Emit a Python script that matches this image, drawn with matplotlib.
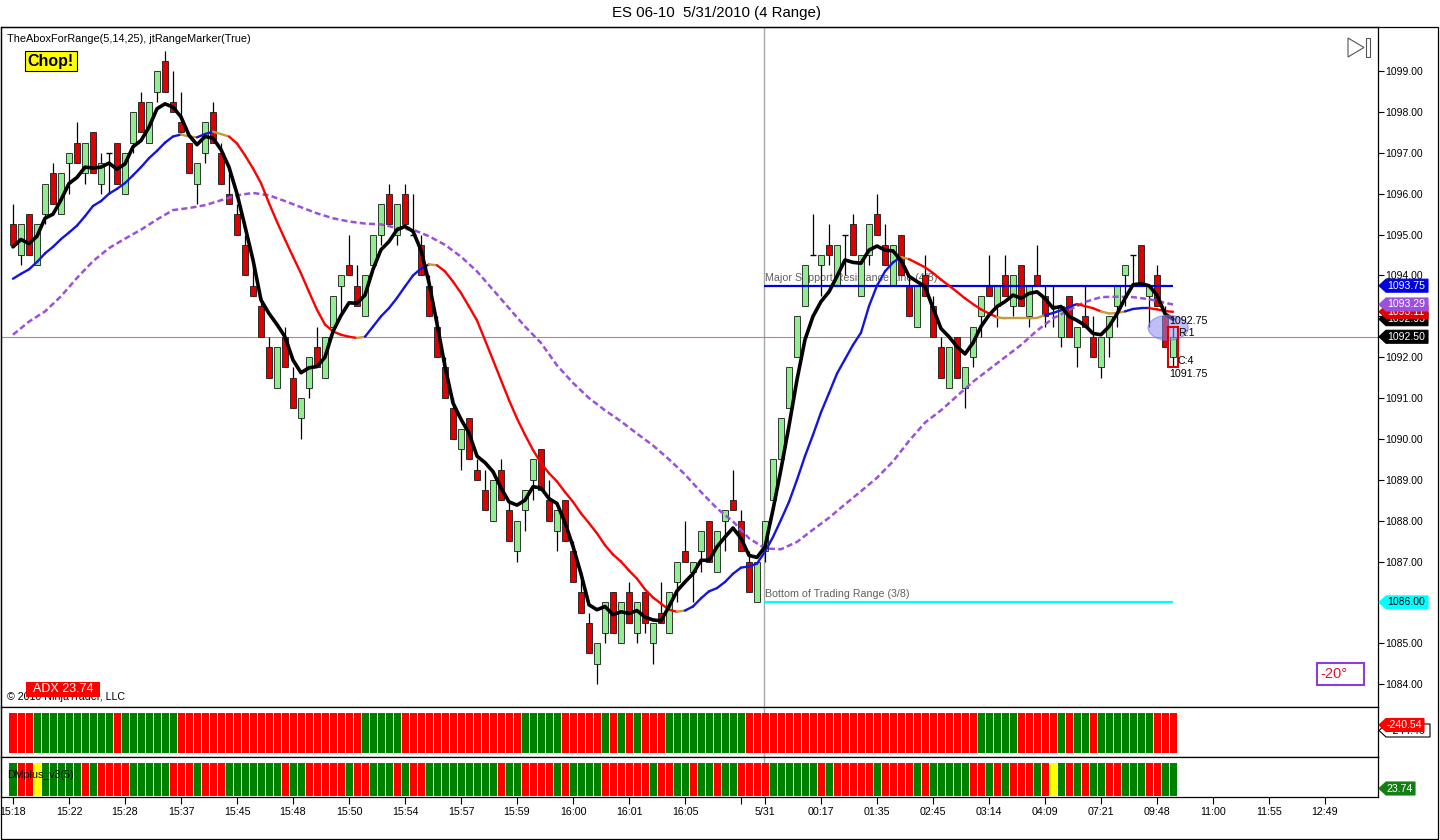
import matplotlib
matplotlib.use("Agg")
import matplotlib.pyplot as plt
import numpy as np
from matplotlib.collections import LineCollection
from matplotlib.patches import Rectangle, Polygon, Ellipse
from matplotlib.transforms import IdentityTransform

plt.rcParams['font.family'] = ['Liberation Sans', 'DejaVu Sans']

# ---------------- data ----------------
opens = [
    1095.25, 1094.5, 1095.5, 1094.25, 1095.5, 1096.5, 1095.5, 1096.75, 1097.25, 1096.5,
    1097.5, 1096.25, 1097.0, 1097.25, 1096.0, 1097.25, 1098.25, 1097.25, 1098.5, 1099.25,
    1098.25, 1097.75, 1097.25, 1096.25, 1097.0, 1098.0, 1097.0, 1096.0, 1095.5, 1094.75,
    1093.75, 1093.25, 1092.25, 1091.25, 1092.5, 1091.5, 1090.5, 1091.25, 1092.25, 1091.5,
    1092.75, 1093.75, 1094.25, 1093.75, 1093.0, 1094.25, 1095.0, 1096.0, 1095.0, 1096.0,
    1095.0, 1094.75, 1093.75, 1092.75, 1091.75, 1090.75, 1089.75, 1090.5, 1089.25, 1088.75,
    1088.0, 1089.25, 1088.25, 1087.25, 1088.25, 1089.0, 1089.75, 1088.5, 1087.75, 1088.5,
    1087.25, 1086.25, 1085.5, 1084.5, 1085.25, 1086.25, 1085.0, 1086.25, 1085.25, 1086.25,
    1085.0, 1085.75, 1085.25, 1086.5, 1087.25, 1086.75, 1087.25, 1088.0, 1086.75, 1088.0,
    1088.5, 1088.0, 1087.0, 1086.0, 1087.25, 1088.5, 1089.5, 1090.75, 1092.0, 1093.25,
    1094.5, 1094.25, 1094.75, 1093.75, 1095.0, 1095.25, 1093.5, 1094.5, 1095.5, 1094.75,
    1093.75, 1095.0, 1093.75, 1092.75, 1094.0, 1093.25, 1092.25, 1091.25, 1092.5, 1091.25,
    1092.0, 1093.0, 1093.75, 1093.25, 1094.0, 1093.25, 1094.25, 1093.0, 1094.0, 1093.5,
    1093.25, 1092.5, 1093.5, 1092.25, 1093.0, 1092.5, 1091.75, 1092.5, 1093.25, 1094.0,
    1094.5, 1094.75, 1093.5, 1094.0, 1093.0, 1092.0]
highs = [
    1095.75, 1095.25, 1095.5, 1095.25, 1096.25, 1096.75, 1096.5, 1097.0, 1097.75, 1097.25,
    1097.5, 1097.0, 1097.0, 1097.25, 1097.0, 1098.0, 1098.5, 1098.25, 1099.0, 1099.5,
    1099.0, 1098.5, 1097.25, 1096.75, 1097.75, 1098.25, 1097.25, 1096.5, 1095.75, 1095.0,
    1094.25, 1093.5, 1092.5, 1092.25, 1092.75, 1091.75, 1091.0, 1092.0, 1092.75, 1092.5,
    1093.5, 1094.0, 1095.0, 1094.25, 1094.0, 1095.0, 1095.75, 1096.25, 1095.75, 1096.25,
    1096.0, 1095.0, 1094.0, 1093.0, 1092.0, 1091.0, 1090.25, 1090.5, 1089.5, 1089.25,
    1089.0, 1089.5, 1088.5, 1088.0, 1088.75, 1089.5, 1089.75, 1089.0, 1088.25, 1088.5,
    1087.5, 1086.75, 1085.75, 1085.0, 1086.0, 1086.25, 1086.0, 1086.5, 1086.0, 1086.25,
    1085.5, 1086.5, 1086.25, 1087.0, 1088.0, 1087.0, 1087.75, 1088.0, 1087.75, 1088.25,
    1089.25, 1088.25, 1087.25, 1087.0, 1088.0, 1089.5, 1090.5, 1091.75, 1093.0, 1094.25,
    1095.5, 1094.5, 1095.25, 1094.75, 1095.0, 1095.5, 1094.5, 1095.25, 1096.0, 1095.25,
    1094.75, 1095.0, 1094.0, 1093.75, 1094.5, 1093.5, 1092.5, 1092.25, 1092.5, 1091.75,
    1092.75, 1093.5, 1094.5, 1093.75, 1094.5, 1094.0, 1094.25, 1093.75, 1094.75, 1093.75,
    1093.75, 1093.25, 1093.5, 1092.75, 1093.75, 1093.0, 1092.5, 1093.0, 1093.75, 1094.25,
    1094.5, 1094.75, 1093.75, 1094.25, 1093.25, 1092.75]
lows = [
    1094.75, 1094.25, 1094.5, 1094.25, 1095.25, 1095.75, 1095.5, 1096.0, 1096.75, 1096.25,
    1096.5, 1096.0, 1096.0, 1096.25, 1096.0, 1097.0, 1097.5, 1097.25, 1098.25, 1098.5,
    1098.0, 1097.5, 1096.5, 1095.75, 1096.75, 1097.25, 1096.25, 1095.75, 1095.0, 1094.0,
    1093.5, 1092.5, 1091.5, 1091.25, 1091.75, 1090.75, 1090.0, 1091.0, 1091.75, 1091.5,
    1092.75, 1093.0, 1094.0, 1093.25, 1093.0, 1094.25, 1094.75, 1095.25, 1094.75, 1095.25,
    1095.0, 1094.0, 1093.0, 1092.0, 1091.0, 1090.0, 1089.25, 1089.5, 1089.0, 1088.25,
    1088.0, 1088.5, 1087.5, 1087.0, 1087.75, 1088.5, 1088.75, 1088.0, 1087.25, 1087.5,
    1086.5, 1085.75, 1084.75, 1084.0, 1085.0, 1085.25, 1085.0, 1085.5, 1085.0, 1085.25,
    1084.5, 1085.5, 1085.25, 1086.0, 1087.0, 1086.0, 1086.75, 1087.0, 1086.75, 1087.25,
    1088.25, 1087.25, 1086.25, 1086.0, 1087.0, 1088.5, 1089.5, 1090.75, 1092.0, 1093.25,
    1094.5, 1093.5, 1094.25, 1093.75, 1094.0, 1094.5, 1093.5, 1094.25, 1095.0, 1094.25,
    1093.75, 1094.0, 1093.0, 1092.75, 1093.5, 1092.5, 1091.5, 1091.25, 1091.5, 1090.75,
    1091.75, 1092.5, 1093.5, 1092.75, 1093.5, 1093.0, 1093.25, 1092.75, 1093.75, 1092.75,
    1092.75, 1092.25, 1092.5, 1091.75, 1092.75, 1092.0, 1091.5, 1092.0, 1092.75, 1093.25,
    1093.75, 1093.75, 1092.75, 1093.25, 1092.25, 1091.75]
closes = [
    1094.75, 1095.25, 1094.5, 1095.25, 1096.25, 1095.75, 1096.5, 1097.0, 1096.75, 1097.25,
    1096.5, 1096.75, 1097.0, 1096.25, 1097.0, 1098.0, 1097.5, 1098.25, 1099.0, 1098.5,
    1098.0, 1097.5, 1096.5, 1096.75, 1097.75, 1097.25, 1096.25, 1095.75, 1095.0, 1094.0,
    1093.5, 1092.5, 1091.5, 1092.25, 1091.75, 1090.75, 1091.0, 1092.0, 1091.75, 1092.5,
    1093.5, 1094.0, 1094.0, 1093.25, 1094.0, 1095.0, 1095.75, 1095.25, 1095.75, 1095.25,
    1095.0, 1094.0, 1093.0, 1092.0, 1091.0, 1090.0, 1090.25, 1089.5, 1089.0, 1088.25,
    1089.0, 1088.5, 1087.5, 1088.0, 1088.75, 1089.5, 1088.75, 1088.0, 1088.25, 1087.5,
    1086.5, 1085.75, 1084.75, 1085.0, 1086.0, 1085.25, 1086.0, 1085.5, 1086.0, 1085.5,
    1085.5, 1085.5, 1086.25, 1087.0, 1087.0, 1087.0, 1087.75, 1087.0, 1087.75, 1088.25,
    1088.25, 1087.25, 1086.25, 1087.0, 1088.0, 1089.5, 1090.5, 1091.75, 1093.0, 1094.25,
    1094.5, 1094.5, 1094.5, 1094.75, 1095.0, 1094.5, 1094.5, 1095.25, 1095.0, 1094.25,
    1094.75, 1094.0, 1093.0, 1093.75, 1093.5, 1092.5, 1091.5, 1092.25, 1091.5, 1091.75,
    1092.75, 1093.5, 1093.5, 1093.75, 1093.5, 1094.0, 1093.25, 1093.75, 1093.75, 1093.0,
    1093.25, 1093.25, 1092.5, 1092.75, 1092.75, 1092.0, 1092.5, 1093.0, 1093.75, 1094.25,
    1094.5, 1093.75, 1093.75, 1093.25, 1092.25, 1092.5]

fast_ma = [
    1094.7, 1094.88, 1094.78, 1094.96, 1095.4, 1095.5, 1095.85, 1096.25, 1096.4, 1096.65,
    1096.63, 1096.65, 1096.75, 1096.6, 1096.73, 1097.15, 1097.3, 1097.63, 1098.08, 1098.2,
    1098.12, 1097.88, 1097.43, 1097.2, 1097.4, 1097.36, 1097.08, 1096.65, 1096.0, 1095.2,
    1094.38, 1093.4, 1093.07, 1092.8, 1092.5, 1091.93, 1091.62, 1091.74, 1091.77, 1092.0,
    1092.63, 1093.02, 1093.33, 1093.32, 1093.52, 1094.15, 1094.63, 1094.83, 1095.12, 1095.2,
    1095.08, 1094.62, 1093.82, 1092.82, 1091.77, 1090.88, 1090.48, 1090.14, 1089.58, 1089.42,
    1089.2, 1088.8, 1088.46, 1088.38, 1088.5, 1088.83, 1088.8, 1088.54, 1088.42, 1087.95,
    1087.37, 1086.7, 1085.94, 1085.82, 1085.9, 1085.7, 1085.77, 1085.73, 1085.8, 1085.64,
    1085.57, 1085.55, 1085.9, 1086.28, 1086.5, 1086.7, 1087.03, 1087.03, 1087.36, 1087.6,
    1087.82, 1087.57, 1087.15, 1087.1, 1087.36, 1088.27, 1089.26, 1090.32, 1091.45, 1092.43,
    1093.0, 1093.36, 1093.6, 1093.98, 1094.38, 1094.32, 1094.3, 1094.62, 1094.72, 1094.62,
    1094.6, 1094.37, 1093.98, 1093.85, 1093.73, 1093.2, 1092.7, 1092.5, 1092.26, 1092.08,
    1092.35, 1092.75, 1093.03, 1093.24, 1093.36, 1093.52, 1093.44, 1093.56, 1093.6, 1093.44,
    1093.2, 1093.24, 1093.0, 1092.9, 1092.78, 1092.58, 1092.55, 1092.75, 1093.06, 1093.44,
    1093.77, 1093.8, 1093.75, 1093.52, 1093.06, 1092.93]

mid_ma = [
    1093.92, 1094.04, 1094.15, 1094.33, 1094.54, 1094.7, 1094.89, 1095.05, 1095.22, 1095.45,
    1095.7, 1095.82, 1096.0, 1096.12, 1096.26, 1096.45, 1096.65, 1096.87, 1097.05, 1097.25,
    1097.4, 1097.45, 1097.4, 1097.38, 1097.46, 1097.52, 1097.46, 1097.4, 1097.23, 1096.94,
    1096.62, 1096.26, 1095.77, 1095.31, 1094.88, 1094.46, 1094.05, 1093.6, 1093.16, 1092.8,
    1092.63, 1092.55, 1092.5, 1092.47, 1092.5, 1092.75, 1093.0, 1093.2, 1093.45, 1093.73,
    1094.0, 1094.17, 1094.27, 1094.25, 1094.1, 1093.85, 1093.57, 1093.24, 1092.9, 1092.42,
    1091.93, 1091.44, 1090.95, 1090.5, 1090.1, 1089.73, 1089.41, 1089.16, 1088.96, 1088.7,
    1088.46, 1088.18, 1087.94, 1087.69, 1087.4, 1087.17, 1087.0, 1086.78, 1086.58, 1086.32,
    1086.12, 1085.97, 1085.82, 1085.77, 1085.8, 1085.9, 1086.1, 1086.27, 1086.35, 1086.5,
    1086.7, 1086.85, 1086.88, 1086.95, 1087.24, 1087.6, 1088.02, 1088.46, 1089.0, 1089.58,
    1090.1, 1090.65, 1091.12, 1091.6, 1091.95, 1092.3, 1092.6, 1093.25, 1093.75, 1094.1,
    1094.32, 1094.45, 1094.4, 1094.3, 1094.2, 1094.06, 1093.9, 1093.75, 1093.6, 1093.44,
    1093.3, 1093.17, 1093.07, 1092.98, 1092.95, 1092.95, 1092.95, 1092.95, 1092.96, 1093.03,
    1093.08, 1093.15, 1093.23, 1093.3, 1093.25, 1093.2, 1093.12, 1093.07, 1093.08, 1093.12,
    1093.18, 1093.2, 1093.2, 1093.17, 1093.13, 1093.11]
# u = rising (blue), d = falling (red), f = flat (gold); run lengths in segments
mid_trend = [('u', 21), ('f', 2), ('u', 2), ('f', 2), ('d', 16), ('f', 1), ('u', 8),
             ('f', 1), ('d', 30), ('f', 1), ('u', 27), ('f', 1), ('d', 11), ('f', 6),
             ('u', 4), ('d', 3), ('f', 3), ('u', 3), ('d', 3)]

slow_bars = list(range(0, 145, 2)) + [145]
slow_ma = [
    1092.55, 1092.87, 1093.12, 1093.49, 1093.94, 1094.35, 1094.67, 1094.9, 1095.12, 1095.37,
    1095.6, 1095.65, 1095.72, 1095.84, 1095.96, 1096.02, 1095.96, 1095.82, 1095.67, 1095.52,
    1095.4, 1095.32, 1095.27, 1095.25, 1095.16, 1095.12, 1094.96, 1094.75, 1094.46, 1094.1,
    1093.65, 1093.2, 1092.75, 1092.35, 1091.8, 1091.37, 1091.0, 1090.7, 1090.43, 1090.13,
    1089.84, 1089.5, 1089.13, 1088.7, 1088.3, 1087.98, 1087.57, 1087.32, 1087.3, 1087.48,
    1087.78, 1088.07, 1088.4, 1088.72, 1089.05, 1089.45, 1089.95, 1090.4, 1090.7, 1091.05,
    1091.4, 1091.7, 1092.0, 1092.3, 1092.65, 1092.95, 1093.15, 1093.35, 1093.47, 1093.48,
    1093.47, 1093.42, 1093.33, 1093.29]

osc_runs = [('r', 3), ('g', 10), ('r', 1), ('g', 7), ('r', 23), ('g', 5), ('r', 15), ('g', 5),
            ('r', 5), ('g', 1), ('r', 1), ('g', 1), ('r', 1), ('g', 1), ('r', 3), ('g', 10),
            ('r', 29), ('g', 5), ('r', 5), ('g', 1), ('r', 1), ('g', 2), ('r', 1), ('g', 7),
            ('r', 3)]
adx_runs = [('g', 1), ('r', 2), ('y', 1), ('g', 5), ('r', 1), ('g', 1), ('r', 4), ('g', 5),
            ('r', 3), ('g', 1), ('r', 3), ('g', 7), ('r', 1), ('g', 2), ('r', 5), ('g', 1),
            ('r', 2), ('g', 3), ('r', 1), ('g', 1), ('r', 2), ('g', 9), ('r', 1), ('g', 2),
            ('r', 4), ('g', 1), ('r', 1), ('g', 4), ('r', 6), ('g', 1), ('r', 2), ('g', 2),
            ('r', 1), ('g', 2), ('r', 1), ('g', 2), ('r', 4), ('g', 6), ('r', 1), ('g', 1),
            ('r', 5), ('g', 1), ('r', 4), ('g', 1), ('r', 1), ('g', 5), ('r', 2), ('g', 1),
            ('r', 1), ('g', 1), ('r', 3), ('g', 1), ('r', 1), ('y', 1), ('g', 1), ('r', 1),
            ('g', 1), ('r', 1), ('g', 2), ('r', 2), ('g', 3), ('r', 2), ('g', 2)]

tick_bars = [0, 7, 14, 21, 28, 35, 42, 49, 56, 63, 70, 77, 84, 91, 94,
             101, 108, 115, 122, 129, 136, 143, 150, 157, 164]
tick_labels = ['15:18', '15:22', '15:28', '15:37', '15:45', '15:48', '15:50', '15:54',
               '15:57', '15:59', '16:00', '16:01', '16:05', '', '5/31', '00:17', '01:35',
               '02:45', '03:14', '04:09', '07:21', '09:48', '11:00', '11:55', '12:49']

session_start = 94
support_level = 1093.75
bottom_level = 1086.00
osc_value, osc_signal, adx_value = -240.54, -244.46, 23.74
range_count, range_remaining = 4, 1
angle_text = "-20\u00b0"

# ---------------- figure ----------------
W, H = 1440, 840
fig = plt.figure(figsize=(W / 100, H / 100), dpi=100)
fig.patch.set_facecolor('white')


def rect(x0, y0, x1, y1):
    return [x0 / W, 1 - y1 / H, (x1 - x0) / W, (y1 - y0) / H]


def fp(x, y):
    return (x / W, 1 - y / H)


ax = fig.add_axes(rect(1, 27, 1378, 707))
ax1 = fig.add_axes(rect(1, 707, 1378, 757), sharex=ax)
ax2 = fig.add_axes(rect(1, 757, 1378, 797), sharex=ax)

n = len(closes)
x = np.arange(n)
o = np.array(opens); c = np.array(closes); hi = np.array(highs); lo = np.array(lows)

XLIM = (-1.5, 170.625)
ax.set_xlim(*XLIM)
ax.set_ylim(1083.44, 1100.08)

for a in (ax, ax1, ax2):
    for s in a.spines.values():
        s.set_color('black')
        s.set_linewidth(0.9)
    a.set_facecolor('white')

# current price line
ax.axhline(c[-1], color='#B88878', lw=0.8, zorder=1)
# session break
for a in (ax, ax1, ax2):
    a.axvline(session_start - 0.1, color='#A8A8A8', lw=1.0, zorder=0.5)

# candles
up = c > o
dn = c < o
dj = c == o
ax.vlines(x, lo, hi, color='black', lw=0.9, zorder=1.8)
body_w = 0.7
ax.bar(x[up], (c - o)[up], bottom=o[up], width=body_w, color='#90EE90',
       edgecolor='#1a1a1a', linewidth=0.6, zorder=2)
ax.bar(x[dn], (o - c)[dn], bottom=c[dn], width=body_w, color='#E00000',
       edgecolor='#1a1a1a', linewidth=0.6, zorder=2)
ax.hlines(o[dj], x[dj] - body_w / 2, x[dj] + body_w / 2, color='black', lw=1.0, zorder=2)

# support / range lines
ax.hlines(support_level, session_start - 0.1, n - 1, color='#0000E6', lw=1.6, zorder=3)
ax.hlines(bottom_level, session_start - 0.1, n - 1, color='#00FFFF', lw=1.6, zorder=3)
ax.annotate('Major Support Resistance Line (4/8)', xy=(session_start - 0.1, support_level),
            xytext=(1, 3), textcoords='offset pixels', ha='left', va='bottom',
            fontsize=7.7, color='#606060', zorder=1)
ax.annotate('Bottom of Trading Range (3/8)', xy=(session_start - 0.1, bottom_level),
            xytext=(1, 3), textcoords='offset pixels', ha='left', va='bottom',
            fontsize=7.7, color='#606060', zorder=1)

# slow MA (dashed purple)
ax.plot(slow_bars, slow_ma, color='#9A50DC', lw=1.8, ls=(0, (2.4, 1.3)), zorder=3)

# mid MA coloured by trend
trend_col = {'u': '#1414E0', 'd': '#FF0000', 'f': '#C99A3A'}
seg_cols = []
for code, cnt in mid_trend:
    seg_cols += [trend_col[code]] * cnt
segs = [[(i, mid_ma[i]), (i + 1, mid_ma[i + 1])] for i in range(n - 1)]
ax.add_collection(LineCollection(segs, colors=seg_cols[:n - 1], linewidths=1.7,
                                 capstyle='round', zorder=3.2))

# fast MA
ax.plot(x, fast_ma, color='black', lw=2.6, zorder=4, solid_joinstyle='round',
        solid_capstyle='round')

# range marker on last bar
ax.add_patch(Ellipse((n - 1 - 0.6, hi[-1] - 0.03), 5.0, 0.61, facecolor=(0.55, 0.55, 0.95),
                     edgecolor=(0.45, 0.45, 0.95), alpha=0.55, lw=1, zorder=5))
ax.add_patch(Rectangle((n - 1 - 0.6, lo[-1]), 1.2, hi[-1] - lo[-1], fill=False,
                       edgecolor='#E00000', lw=1.5, zorder=6))
ax.annotate(f"{hi[-1]:.2f}", xy=(n - 1, hi[-1]), xytext=(-4, 6), textcoords='offset pixels',
            ha='left', va='center', fontsize=7.7, zorder=7)
ax.annotate(f"R:{range_remaining}", xy=(n - 1, hi[-1]), xytext=(5, -6), textcoords='offset pixels',
            ha='left', va='center', fontsize=7.7, zorder=7)
ax.annotate(f"C:{range_count}", xy=(n - 1, lo[-1]), xytext=(5, 6), textcoords='offset pixels',
            ha='left', va='center', fontsize=7.7, zorder=7)
ax.annotate(f"{lo[-1]:.2f}", xy=(n - 1, lo[-1]), xytext=(-4, -7), textcoords='offset pixels',
            ha='left', va='center', fontsize=7.7, zorder=7)

# axes ticks
ax.yaxis.tick_right()
yt = np.arange(1084, 1100)
ax.set_yticks(yt)
ax.set_yticklabels([f"{v:.2f}" for v in yt])
ax.tick_params(axis='y', length=4, width=0.8, pad=1.5, labelsize=7.5, right=True, left=False)
ax.tick_params(axis='x', bottom=False, labelbottom=False)

# lower panels
col_map = {'r': '#FF0000', 'g': '#008000', 'y': '#FFFF00'}
osc_cols = [col_map[k] for k, cnt in osc_runs for _ in range(cnt)][:n]
adx_cols = [col_map[k] for k, cnt in adx_runs for _ in range(cnt)][:n]
ax1.set_ylim(0, 1)
ax2.set_ylim(0, 1)
ax1.bar(x[:len(osc_cols)], 0.8, bottom=0.08, width=0.875, color=osc_cols, linewidth=0, zorder=2)
ax2.bar(x[:len(adx_cols)], 0.825, bottom=0.025, width=0.875, color=adx_cols, linewidth=0, zorder=2)
for a in (ax1, ax2):
    a.set_yticks([])
ax1.tick_params(axis='x', bottom=False, labelbottom=False)
ax2.set_xticks(tick_bars)
ax2.set_xticklabels(tick_labels)
ax2.tick_params(axis='x', length=5, width=0.8, pad=2, labelsize=7.7)
ax.set_xlim(*XLIM)

# ---------------- tags on the right ----------------


def tag(yc, text, fc, tc, xl=1379, xr=1428, h=13, ec=None, z=10):
    pts = [(xl, yc), (xl + 7, yc + h / 2), (xr, yc + h / 2), (xr, yc - h / 2), (xl + 7, yc - h / 2)]
    fig.add_artist(Polygon(pts, closed=True, transform=IdentityTransform(), facecolor=fc,
                           edgecolor=ec if ec else fc, lw=0.8, zorder=z))
    fig.text(((xl + 7 + xr) / 2 - 1) / W, yc / H, text, ha='center', va='center',
             fontsize=7.6, color=tc, zorder=z + 0.5)


def ydisp(price):
    return ax.transData.transform((0, price))[1]


tag(ydisp(fast_ma[-1]), f"{fast_ma[-1]:.2f}", 'black', 'white', z=10)
tag(ydisp(mid_ma[-1]), f"{mid_ma[-1]:.2f}", '#E00000', 'white', z=11)
tag(ydisp(slow_ma[-1]), f"{slow_ma[-1]:.2f}", '#9A50DC', 'white', z=12)
tag(ydisp(support_level), f"{support_level:.2f}", '#0000E0', 'white', z=12)
tag(ydisp(c[-1]), f"{c[-1]:.2f}", 'black', 'white', z=12)
tag(ydisp(bottom_level), f"{bottom_level:.2f}", '#00FFFF', 'black', z=12)

tag(H - 730.5, f"{osc_signal:.2f}", 'white', 'black', xr=1430, ec='black', z=10)
tag(H - 725, f"{osc_value:.2f}", '#FF0000', 'white', xr=1424, z=11)
tag(H - 788.5, f"{adx_value:.2f}", '#127F12', 'white', xr=1415, z=11)

# ---------------- texts and decorations ----------------
fig.text(*fp(716, 13), 'ES 06-10  5/31/2010 (4 Range)', ha='center', va='center', fontsize=10.8)
fig.text(*fp(7, 39), 'TheAboxForRange(5,14,25), jtRangeMarker(True)', ha='left', va='center',
         fontsize=7.8)
fig.add_artist(Rectangle(fp(25, 71), 52 / W, 20 / H, transform=fig.transFigure,
                         facecolor='#FFFF00', edgecolor='black', lw=0.8, zorder=5))
fig.text(*fp(51, 61.5), 'Chop!', ha='center', va='center', fontsize=11.5, fontweight='bold',
         zorder=6)

fig.text(*fp(7, 697), '\u00a9 2010 NinjaTrader, LLC', ha='left', va='center', fontsize=7.7,
         zorder=4)
fig.add_artist(Rectangle(fp(26, 697), 74 / W, 15 / H, transform=fig.transFigure,
                         facecolor='#FF0000', edgecolor='none', zorder=5))
fig.text(*fp(63, 689.5), f'ADX {adx_value:.2f}', ha='center', va='center', fontsize=9,
         color='white', zorder=6)

fig.text(*fp(7, 775), 'DMplus_v3(5)', ha='left', va='center', fontsize=7.7, zorder=6)

fig.add_artist(Rectangle(fp(1317, 685), 47 / W, 22 / H, transform=fig.transFigure,
                         facecolor='white', edgecolor='#8B3FD8', lw=1.5, zorder=5))
fig.text(*fp(1320, 674), angle_text, ha='left', va='center', fontsize=10.5, color='#DC1432',
         zorder=6)

# scroll-to-end icon
fig.add_artist(Polygon([fp(1348, 38), fp(1348, 57), fp(1364, 47.5)], closed=True,
                       transform=fig.transFigure, fill=False, edgecolor='#555555', lw=0.8,
                       zorder=5))
fig.add_artist(Rectangle(fp(1366, 57), 4 / W, 19 / H, transform=fig.transFigure, fill=False,
                         edgecolor='#555555', lw=0.8, zorder=5))

# outer frame
fig.add_artist(Rectangle(fp(1, 839), 1437 / W, 812 / H, transform=fig.transFigure, fill=False,
                         edgecolor='black', lw=0.9, zorder=20))

fig.savefig('out.png', dpi=100)
